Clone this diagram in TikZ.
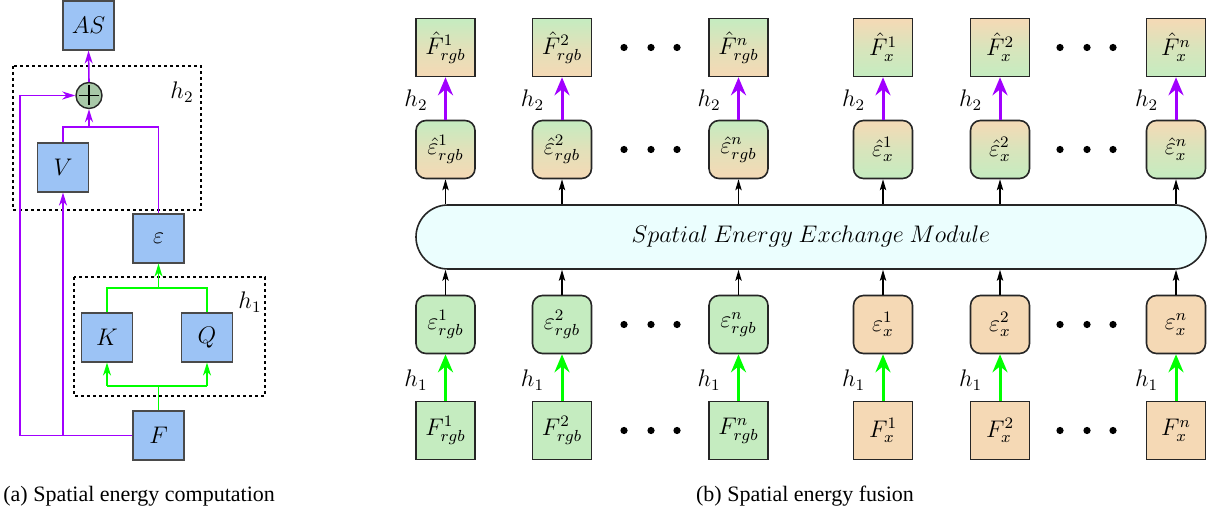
\documentclass[tikz,border=0pt]{standalone}
\usepackage{fontspec}
\setmainfont{Liberation Serif}
\usetikzlibrary{arrows.meta,calc}
\definecolor{boxblue}{HTML}{9CC3F5}
\definecolor{boxborder}{HTML}{4A4A4A}
\definecolor{lgreen}{HTML}{C5ECC0}
\definecolor{peach}{HTML}{F5D9B5}
\definecolor{vio}{HTML}{A100FF}
\definecolor{brgreen}{HTML}{00FF00}
\definecolor{modfill}{HTML}{EBFEFE}
\definecolor{opfill}{HTML}{A8C8A8}
\begin{document}
\begin{tikzpicture}[x=0.5pt,y=-0.5pt,
  lbl/.style={font=\fontsize{11.5}{13}\selectfont},
  bbox/.style={draw=boxborder, fill=boxblue, line width=0.6pt, minimum width=25.5pt, minimum height=24.5pt, inner sep=0pt, lbl},
  sqbox/.style={draw=black!85, line width=0.8pt, minimum width=29.5pt, minimum height=29pt, inner sep=0pt, lbl},
  rbox/.style={sqbox, rounded corners=5pt},
  dbox/.style={draw, dash pattern=on 1.5pt off 1.5pt, line width=0.6pt},
  pline/.style={draw=vio, line width=0.8pt},
  parr/.style={pline, -{Stealth[length=6.5pt,width=4pt,inset=2pt]}},
  gline/.style={draw=brgreen, line width=0.8pt},
  garr/.style={gline, -{Stealth[length=6.5pt,width=4pt,inset=2pt]}},
  bigp/.style={draw=vio, line width=1.5pt, -{Stealth[length=9pt,width=7.5pt,inset=3pt]}},
  bigg/.style={draw=brgreen, line width=1.5pt, -{Stealth[length=9pt,width=7.5pt,inset=3pt]}},
  karr/.style={draw=black, line width=0.6pt, -{Stealth[length=5.5pt,width=3.2pt,inset=1.2pt]}},
  capt/.style={font=\fontsize{11}{13}\selectfont, inner sep=0pt},
]
\useasboundingbox (0,0) rectangle (1213,512);

% ---------- (a) ----------
\draw[dbox] (13,66) rectangle (201,210);
\draw[dbox] (74,277) rectangle (265,396);
\node[lbl] (h2a) at (182,92) {$h_2$};
\node[lbl] (h1a) at (250,302) {$h_1$};

\node[bbox] (AS) at (88.5,25.5) {$AS$};
\node[circle, draw=black!85, fill=opfill, line width=0.7pt, minimum size=13pt, inner sep=0pt] (op) at (89,95.5) {};
\draw[line width=0.7pt] ($(op.center)+(0,-10)$) -- ($(op.center)+(0,10)$)
  ($(op.center)+(-10,0)$) -- ($(op.center)+(10,0)$);
\node[bbox] (V) at (63,167.5) {$V$};
\node[bbox] (eps) at (158.5,238.5) {$\varepsilon$};
\node[bbox] (K) at (107,337.5) {$K$};
\node[bbox] (Q) at (207,337.5) {$Q$};
\node[bbox] (F) at (158.5,435.5) {$F$};

\coordinate (fl) at (20,435.5);
\coordinate (tl) at (20,95.5);
\coordinate (vb) at (63,435.5);
\coordinate (mid2) at (89,127);

\draw[parr] (op.north) -- (AS.south);
\draw[pline] (F.west) -- (fl) -- (tl);
\draw[parr] (tl) -- (op.west);
\draw[parr] (vb) -- (V.south);
\draw[pline] (V.north) -- (V.north |- mid2) -- (eps.north |- mid2) -- (eps.north);
\draw[parr] (mid2) -- (op.south);

\coordinate (g1) at (158.5,386);
\coordinate (g2) at (158.5,288);
\draw[gline] (F.north) -- (g1);
\draw[gline] (K.south |- g1) -- (Q.south |- g1);
\draw[garr] (K.south |- g1) -- (K.south);
\draw[garr] (Q.south |- g1) -- (Q.south);
\draw[gline] (K.north) -- (K.north |- g2) -- (Q.north |- g2) -- (Q.north);
\draw[garr] (g2) -- (eps.south);

\node[capt, anchor=base west] (capa) at (3,501) {(a) Spatial energy computation};

% ---------- (b) ----------
\node[draw=black!85, line width=0.8pt, fill=modfill, minimum width=395pt, minimum height=32pt,
  rounded corners=16pt, inner sep=0pt, lbl] (mod) at (811,237) {$Spatial\ Energy\ Exchange\ Module$};

\foreach \i/\cx/\sb/\sp/\ca/\cb in {1/445.5/rgb/1/lgreen/peach, 2/562/rgb/2/lgreen/peach, 3/738.5/rgb/n/lgreen/peach,
  4/883/x/1/peach/lgreen, 5/1000/x/2/peach/lgreen, 6/1176/x/n/peach/lgreen}{
  \node[sqbox, top color=\ca, bottom color=\cb, middle color=\cb!60!\ca] (hF\i) at (\cx,47.5) {$\hat{F}^{\sp}_{\sb}$};
  \node[rbox, top color=\ca, bottom color=\cb, middle color=\cb!60!\ca] (he\i) at (\cx,149.5) {$\hat{\varepsilon}^{\sp}_{\sb}$};
  \node[rbox, fill=\ca] (e\i) at (\cx,324.5) {$\varepsilon^{\sp}_{\sb}$};
  \node[sqbox, fill=\ca] (F\i) at (\cx,430.5) {$F^{\sp}_{\sb}$};
  \draw[bigp] (he\i) -- (hF\i);
  \draw[bigg] (F\i) -- (e\i);
  \draw[karr] (e\i.north) -- (e\i.north |- mod.south);
  \draw[karr] (he\i.south |- mod.north) -- (he\i.south);
  \node[lbl] (hb\i) at ({\cx-29.5},100) {$h_2$};
  \node[lbl] (ha\i) at ({\cx-29.5},380) {$h_1$};
}
\foreach \dx in {624,651,677,1060,1087,1113}{
  \foreach \dy in {47.5,149.5,324.5,430.5}{
    \fill (\dx,\dy) circle[radius=1.8pt];
  }
}

\node[capt, anchor=base] (capb) at (805,501) {(b) Spatial energy fusion};
\end{tikzpicture}
\end{document}
